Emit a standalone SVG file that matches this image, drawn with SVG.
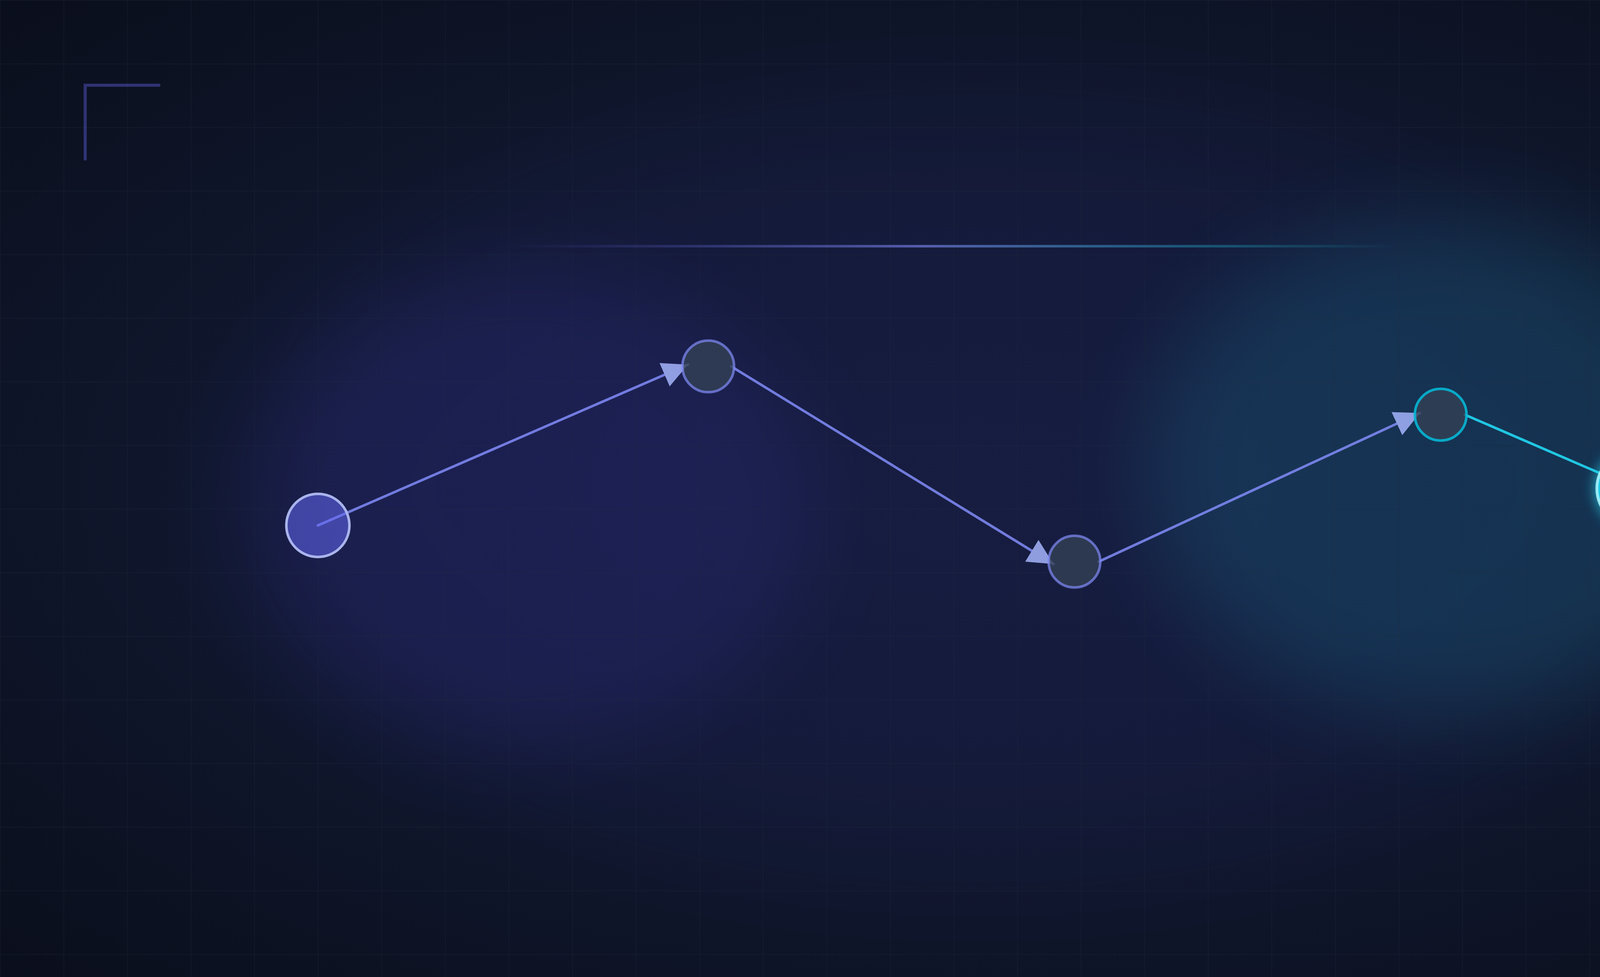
<svg xmlns="http://www.w3.org/2000/svg" width="5000" height="2500" viewBox="0 0 5000 2500">
  <defs>
    <radialGradient id="bgGrad" cx="0.5" cy="0.5" r="0.72">
      <stop offset="0" stop-color="#141b36"/>
      <stop offset="0.55" stop-color="#10172d"/>
      <stop offset="1" stop-color="#0a0e1b"/>
    </radialGradient>
    <linearGradient id="topLine" gradientUnits="userSpaceOnUse" x1="400" y1="0" x2="1100" y2="0">
      <stop offset="0" stop-color="#6366f1" stop-opacity="0"/>
      <stop offset="0.47" stop-color="#818cf8" stop-opacity="0.6"/>
      <stop offset="0.8" stop-color="#22d3ee" stop-opacity="0.3"/>
      <stop offset="1" stop-color="#22d3ee" stop-opacity="0"/>
    </linearGradient>
    <filter id="bigBlur" x="-50%" y="-50%" width="200%" height="200%">
      <feGaussianBlur stdDeviation="35"/>
    </filter>
    <filter id="hugeBlur" x="-50%" y="-50%" width="200%" height="200%">
      <feGaussianBlur stdDeviation="50"/>
    </filter>
    <filter id="nodeGlow" x="-100%" y="-100%" width="300%" height="300%">
      <feGaussianBlur stdDeviation="5"/>
    </filter>
    <pattern id="grid" width="50" height="50" patternUnits="userSpaceOnUse">
      <path d="M50 0 L0 0 0 50" fill="none" stroke="#1e293b" stroke-width="0.7" stroke-opacity="0.5"/>
    </pattern>
    <marker id="arrow" markerUnits="userSpaceOnUse" viewBox="0 0 20 20" markerWidth="20" markerHeight="20" refX="20" refY="10" orient="auto">
      <path d="M0 0 L20 10 L0 20 z" fill="#a5b4fc"/>
    </marker>
    <style>
      .edge { fill: none; stroke-width: 2; stroke-linecap: round; marker-end: url(#arrow); }
      .edge-indigo { stroke: #818cf8; opacity: 0.85; }
      .edge-cyan { stroke: #22d3ee; opacity: 0.92; }
      .node-mid { fill: #334155; fill-opacity: 0.8; stroke-width: 2; }
      .bracket { fill: none; stroke-width: 2.4; stroke-linecap: round; }
    </style>
  </defs>

  <g transform="scale(3.2552083)">
    <g id="background">
      <rect x="0" y="0" width="1536" height="768" fill="url(#bgGrad)"/>
      <ellipse cx="768" cy="384" rx="560" ry="290" fill="#4f46e5" opacity="0.06" filter="url(#hugeBlur)"/>
      <ellipse cx="414" cy="400" rx="225" ry="190" fill="#4f46e5" opacity="0.12" filter="url(#bigBlur)"/>
      <ellipse cx="1141" cy="368" rx="240" ry="195" fill="#22d3ee" opacity="0.13" filter="url(#bigBlur)"/>
      <rect x="0" y="0" width="1536" height="768" fill="url(#grid)"/>
    </g>

    <g id="decorations">
      <path class="bracket" d="M67 125 V67 H125" stroke="#6366f1" stroke-opacity="0.4"/>
      <path class="bracket" d="M1411 701 H1469 V643" stroke="#06b6d4" stroke-opacity="0.4"/>
      <line x1="400" y1="193.5" x2="1100" y2="193.5" stroke="url(#topLine)" stroke-width="2"/>
    </g>

    <g id="connectors">
      <path class="edge edge-indigo" d="M250 413 L541 286.6"/>
      <path class="edge edge-indigo" d="M575 288 L828.5 443.4"/>
      <path class="edge edge-indigo" d="M864 441.5 L1116.7 324.6"/>
      <path class="edge edge-cyan" d="M1152 326 L1289.5 385.5"/>
    </g>

    <g id="node-1">
      <circle cx="250" cy="413" r="24.8" fill="#6366f1" fill-opacity="0.55" stroke="#aab4ec" stroke-width="2"/>
    </g>
    <g id="node-2">
      <circle class="node-mid" cx="557" cy="288" r="20.3" stroke="#818cf8" stroke-opacity="0.7"/>
    </g>
    <g id="node-3">
      <circle class="node-mid" cx="845" cy="441.5" r="20.3" stroke="#818cf8" stroke-opacity="0.7"/>
    </g>
    <g id="node-4">
      <circle class="node-mid" cx="1133" cy="326" r="20.3" stroke="#06b6d4" stroke-opacity="0.9"/>
    </g>
    <g id="node-5">
      <circle cx="1286" cy="384" r="32" fill="#22d3ee" opacity="0.7" filter="url(#nodeGlow)"/>
      <circle cx="1286" cy="384" r="30.2" fill="#22d3ee" fill-opacity="0.92" stroke="#a5f3fc" stroke-opacity="0.9" stroke-width="2.2"/>
    </g>
  </g>
</svg>
